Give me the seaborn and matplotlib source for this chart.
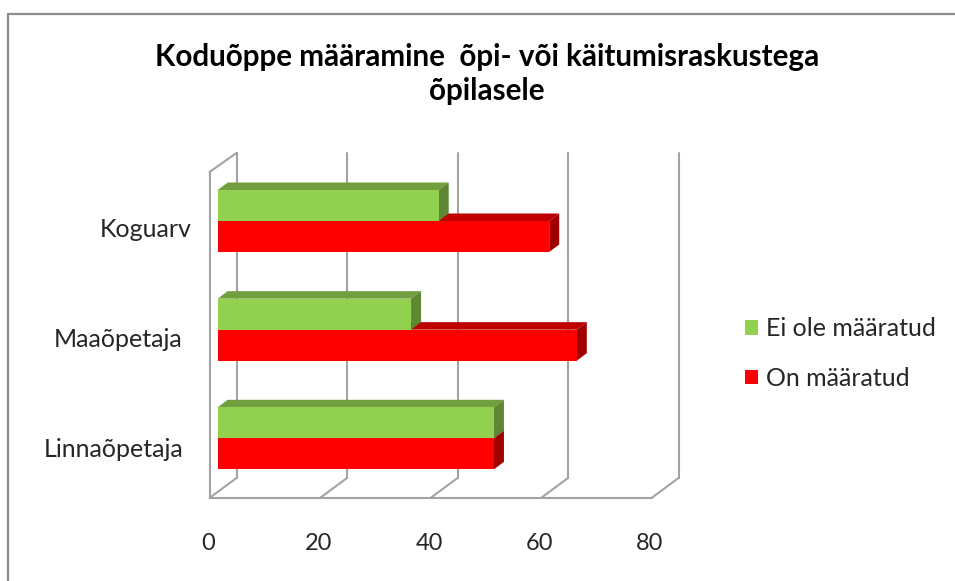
import matplotlib
matplotlib.use("Agg")
import matplotlib.pyplot as plt
import pandas as pd
import seaborn as sns
from matplotlib.lines import Line2D
from matplotlib.patches import Patch, Polygon
from matplotlib.transforms import Affine2D, ScaledTranslation

categories = ["Koguarv", "Maaõpetaja", "Linnaõpetaja"]
series_names = ["Ei ole määratud", "On määratud"]
not_assigned = [40, 35, 50]
assigned = [60, 65, 50]
x_ticks = [0, 20, 40, 60, 80]

title_text = "Koduõppe määramine  õpi- või käitumisraskustega\nõpilasele"

front_colors = {"Ei ole määratud": "#92D050", "On määratud": "#FF0000"}
top_colors = {"Ei ole määratud": "#719E3F", "On määratud": "#BE0000"}
side_colors = {"Ei ole määratud": "#5F8733", "On määratud": "#A00000"}
line_color = "#A3A3A3"
text_color = "#262626"
label_size = 18

W, H = 955, 581

# chart box in pixels, measured on the picture
box_left, box_right, box_top, box_bottom = 209.5, 678.0, 153.0, 498.0
px_per_unit = 5.525
bar_plane_x = 217.7     # where value 0 sits on the front of the bars
first_center = 221.0    # pixel height of first category
px_per_cat = 108.65
wall_dx, wall_dy = 27.0, 20.0
bar_dx, bar_dy = 10.0, 7.5

sns.set_theme(style="white")
plt.rcParams["font.family"] = ["Lato", "DejaVu Sans"]

df = pd.DataFrame({
    "group": categories * 2,
    "series": [series_names[0]] * 3 + [series_names[1]] * 3,
    "value": not_assigned + assigned,
})

fig = plt.figure(figsize=(W / 100, H / 100), dpi=100)
fig.patch.set_facecolor("white")
ax = fig.add_axes([box_left / W, 1 - box_bottom / H,
                   (box_right - box_left) / W, (box_bottom - box_top) / H])
ax.patch.set_alpha(0)

sns.barplot(data=df, y="group", x="value", hue="series", order=categories,
            hue_order=series_names, palette=front_colors, width=62 / px_per_cat,
            saturation=1, gap=0, linewidth=0, ax=ax, legend=False, zorder=4)

ax.set_xlim((box_left - bar_plane_x) / px_per_unit, (box_right - bar_plane_x) / px_per_unit)
ax.set_ylim((box_bottom - first_center) / px_per_cat, (box_top - first_center) / px_per_cat)
ax.set_xlabel("")
ax.set_ylabel("")
sns.despine(ax=ax, left=True, bottom=True)

# 3d faces of the bars, hue containers come in series order
ddx = bar_dx / px_per_unit
ddy = bar_dy / px_per_cat
for container, name, z in zip(ax.containers, series_names, [3.5, 3]):
    for bar in container:
        x1 = bar.get_x() + bar.get_width()
        y0 = bar.get_y()
        y1 = y0 + bar.get_height()
        ax.add_patch(Polygon([(0, y0), (ddx, y0 - ddy), (x1 + ddx, y0 - ddy), (x1, y0)],
                             facecolor=top_colors[name], edgecolor="none", zorder=z))
        ax.add_patch(Polygon([(x1, y0), (x1 + ddx, y0 - ddy), (x1 + ddx, y1 - ddy), (x1, y1)],
                             facecolor=side_colors[name], edgecolor="none", zorder=z))

# walls and floor, x from the tick values, shifted in pixels
dpi_scale = fig.dpi_scale_trans
def shift(px, py):
    return ax.get_xaxis_transform() + ScaledTranslation(px / 100, py / 100, dpi_scale)

front_shift = shift(box_left - bar_plane_x, 0)
back_shift = shift(box_left - bar_plane_x + wall_dx, 0)
floor_back = wall_dy / (box_bottom - box_top)
wall_h = box_bottom - box_top
front_top = (box_bottom - 172.0) / wall_h
line_kw = dict(color=line_color, lw=1.5, zorder=1, clip_on=False, solid_capstyle="round")

for t in x_ticks:
    ax.plot([t, t], [floor_back, 1], transform=back_shift, **line_kw)
    # diagonal from the floor front to the back wall
    x_start, y_start = front_shift.transform((t, 0))
    x_end, y_end = back_shift.transform((t, floor_back))
    ax.add_line(Line2D([x_start, x_end], [y_start, y_end], transform=None, **line_kw))

ax.plot([x_ticks[0], x_ticks[-1]], [0, 0], transform=front_shift, **line_kw)
ax.plot([0, 0], [0, front_top], transform=front_shift, **line_kw)
x_start, y_start = front_shift.transform((0, front_top))
x_end, y_end = back_shift.transform((0, 1))
ax.add_line(Line2D([x_start, x_end], [y_start, y_end], transform=None, **line_kw))

# tick labels
ax.set_xticks(x_ticks)
ax.set_xticklabels([str(t) for t in x_ticks], fontsize=17, color=text_color)
ax.tick_params(axis="x", length=0, pad=25.5)
for label in ax.get_xticklabels():
    label.set_transform(label.get_transform() + Affine2D().translate(box_left - bar_plane_x - 1.5, 0))

ax.set_yticks(range(len(categories)))
ax.set_yticklabels(categories, fontsize=label_size, color=text_color)
ax.tick_params(axis="y", length=0, pad=0)
y_label_shift = [(-17.5, -7), (-27, -8), (-26, -9)]
for label, (sx, sy) in zip(ax.get_yticklabels(), y_label_shift):
    label.set_transform(label.get_transform() + Affine2D().translate(sx, sy))

fig.text(487 / W, 1 - 74 / H, title_text, ha="center", va="center", fontsize=21.3,
         fontweight="bold", color="black", linespacing=1.3)

handles = [Patch(facecolor=front_colors[n], edgecolor="none") for n in series_names]
fig.legend(handles, series_names, loc="center left", bbox_to_anchor=(745 / W, 1 - 353.5 / H),
           frameon=False, fontsize=label_size, labelcolor=text_color, handlelength=0.52,
           handleheight=0.52, handletextpad=0.32, labelspacing=1.06, borderpad=0,
           borderaxespad=0)

# outer chart frame, open on the right and bottom where the crop cuts it
frame_kw = dict(color="#8C8C8C", lw=1.6, transform=fig.transFigure)
fig.add_artist(Line2D([7.5 / W, 7.5 / W], [0, 1 - 13.5 / H], **frame_kw))
fig.add_artist(Line2D([7.5 / W, 1], [1 - 13.5 / H, 1 - 13.5 / H], **frame_kw))

fig.savefig("out.png", dpi=100)
